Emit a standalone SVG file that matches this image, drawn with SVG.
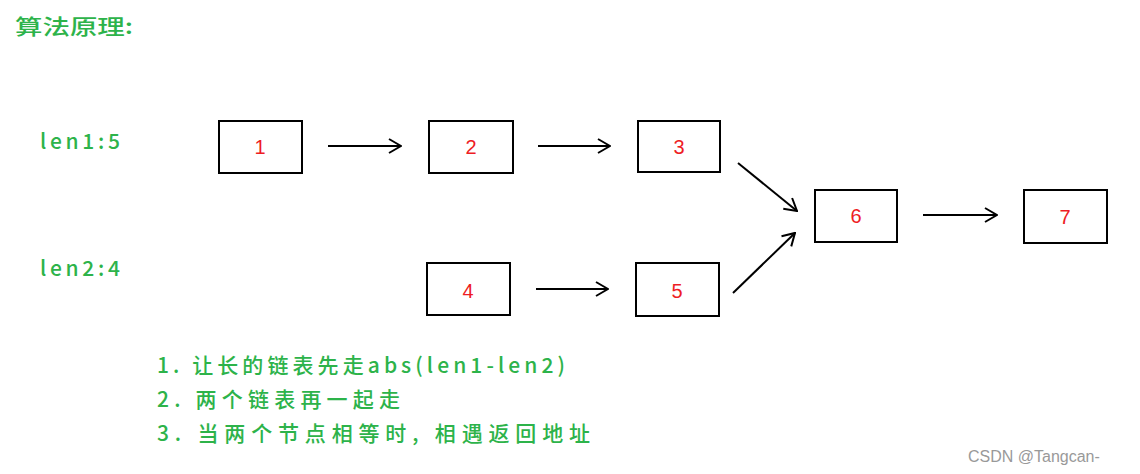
<svg xmlns="http://www.w3.org/2000/svg" width="1140" height="474" viewBox="0 0 1140 474">
<style>
.g{fill:#2db34a;font-family:"Noto Sans CJK SC","Liberation Sans",sans-serif;font-size:21px;font-weight:500}
.b{fill:#fff;stroke:#000;stroke-width:2}
.n{fill:#ee1c24;font-family:"Liberation Sans",sans-serif;font-size:20px;text-anchor:middle}
.c{stroke:#000;stroke-width:2;fill:none}
</style>
<defs><marker id="a" viewBox="0 0 14 16" refX="13" refY="8" markerWidth="14" markerHeight="16" markerUnits="userSpaceOnUse" orient="auto"><path d="M1,1L13,8L1,15" fill="none" stroke="#000" stroke-width="2"/></marker></defs>
<rect width="1140" height="474" fill="#fff"/>
<text class="g" x="15" y="34" textLength="118" lengthAdjust="spacingAndGlyphs">算法原理:</text>
<text class="g" x="40" y="149" textLength="80">len1:5</text>
<text class="g" x="40" y="276" textLength="80">len2:4</text>
<text class="g" x="157" y="373" textLength="408">1. 让长的链表先走abs(len1-len2)</text>
<text class="g" x="157" y="407" textLength="243">2. 两个链表再一起走</text>
<text class="g" x="157" y="441" textLength="433">3. 当两个节点相等时, 相遇返回地址</text>
<text x="968" y="462" fill="#999" font-family="Liberation Sans,sans-serif" font-size="16">CSDN @Tangcan-</text>
<g id="n1"><rect class="b" x="219" y="121" width="83" height="52"/><text class="n" x="260" y="154">1</text></g>
<g id="n2"><rect class="b" x="429" y="121" width="84" height="52"/><text class="n" x="471" y="154">2</text></g>
<g id="n3"><rect class="b" x="638" y="121" width="82" height="51"/><text class="n" x="679" y="154">3</text></g>
<g id="n4"><rect class="b" x="427" y="263" width="83" height="52"/><text class="n" x="468" y="298">4</text></g>
<g id="n5"><rect class="b" x="636" y="263" width="83" height="53"/><text class="n" x="677" y="298">5</text></g>
<g id="n6"><rect class="b" x="815" y="190" width="82" height="52"/><text class="n" x="856" y="223">6</text></g>
<g id="n7"><rect class="b" x="1024" y="190" width="83" height="53"/><text class="n" x="1065" y="224">7</text></g>
<g id="connectors">
<line class="c" x1="328" y1="146" x2="401" y2="146" marker-end="url(#a)"/>
<line class="c" x1="538" y1="146" x2="610" y2="146" marker-end="url(#a)"/>
<line class="c" x1="923" y1="215" x2="997" y2="215" marker-end="url(#a)"/>
<line class="c" x1="536" y1="289" x2="608" y2="289" marker-end="url(#a)"/>
<line class="c" x1="738" y1="163" x2="797" y2="211" marker-end="url(#a)"/>
<line class="c" x1="733" y1="293" x2="795" y2="233" marker-end="url(#a)"/>
</g>
</svg>
